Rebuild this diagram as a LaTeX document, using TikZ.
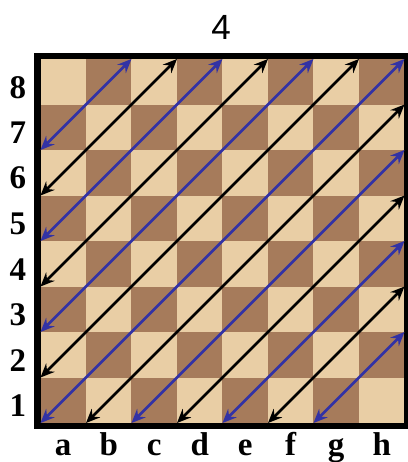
\documentclass[tikz,border=0pt]{standalone}
\usepackage{fontspec}
\setmainfont{Liberation Serif}
\newfontfamily\numfont{Liberation Sans}
\usetikzlibrary{arrows.meta}
\definecolor{lightsq}{RGB}{233,206,165}
\definecolor{darksq}{RGB}{166,123,91}
\definecolor{diagblue}{RGB}{50,50,165}

\begin{document}
\begin{tikzpicture}[x=22.75pt, y=22.75pt,
    >={Stealth[length=7pt, width=6pt, inset=2.4pt]},
    coordlabel/.style={font=\fontsize{16.5}{19}\selectfont\bfseries, inner sep=0pt},
    diag/.style={<->, line width=1.3pt}]
  \useasboundingbox (-0.89,-0.857) rectangle (8.077,9.297);

  % Squares
  \fill[lightsq] (0,0) rectangle (8,8);
  \foreach \i in {0,...,7}
    \foreach \j in {0,...,7} {
      \pgfmathtruncatemacro\s{mod(\i+\j,2)}
      \ifnum\s=0 \fill[darksq] (\i,\j) rectangle ++(1,1); \fi
    }

  % Frame
  \draw[line width=3.25pt] (-0.07,-0.07) rectangle (8.07,8.07);

  % Diagonals from the left edge
  \foreach \k in {0,...,6} {
    \pgfmathtruncatemacro\s{mod(\k,2)}
    \ifnum\s=0 \def\col{diagblue}\else\def\col{black}\fi
    \draw[diag, \col] (0,\k) -- (8-\k,8);
  }

  % Diagonals from the bottom edge
  \foreach \k in {1,...,6} {
    \pgfmathtruncatemacro\s{mod(\k,2)}
    \ifnum\s=0 \def\col{diagblue}\else\def\col{black}\fi
    \draw[diag, \col] (\k,0) -- (8,8-\k);
  }

  % Ranks and files
  \foreach \r in {1,...,8}
    \node[coordlabel] (rank\r) at (-0.495, \r-0.62) {\r};
  \foreach \f [count=\i from 0] in {a,b,c,d,e,f,g,h}
    \node[coordlabel, anchor=base] (file\f) at (\i+0.5, -0.725) {\f};

  % Number on top
  \node[anchor=base, inner sep=0pt, font=\numfont\fontsize{17.5}{20}\selectfont]
    (topnum) at (3.97, 8.42) {4};
\end{tikzpicture}
\end{document}
